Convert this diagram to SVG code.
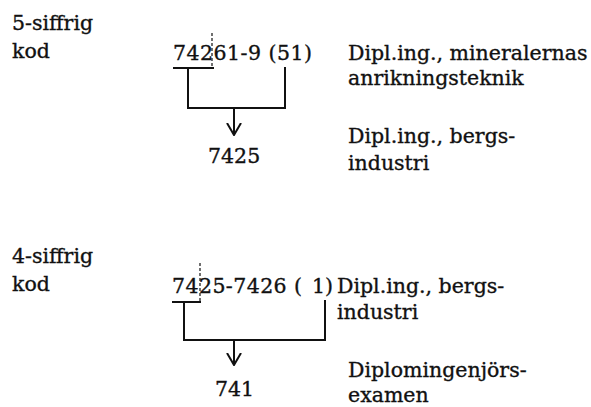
<svg xmlns="http://www.w3.org/2000/svg" width="591" height="407" viewBox="0 0 591 407">
<style>
text{font-family:"DejaVu Serif","Liberation Serif",serif;font-size:20.5px;fill:#111;stroke:#111;stroke-width:0.35}
.ln{stroke:#111;stroke-width:2;fill:none}
.dot{stroke:#111;stroke-width:1.2;stroke-dasharray:3,2;fill:none}
</style>
<defs>
<marker id="ah" viewBox="0 0 13 16" refX="12" refY="8" markerWidth="13" markerHeight="16" markerUnits="userSpaceOnUse" orient="auto">
<path d="M0,1 L12,8 L0,15" fill="none" stroke="#111" stroke-width="2"/>
</marker>
</defs>
<rect width="591" height="407" fill="#fff"/>
<g id="label-5">
<text x="12" y="30">5-siffrig</text>
<text x="12" y="58">kod</text>
</g>
<g id="code-5">
<text x="173" y="60" textLength="139" lengthAdjust="spacing">74261-9 (51)</text>
</g>
<g id="desc-5">
<text x="348" y="60">Dipl.ing., mineralernas</text>
<text x="348" y="85">anrikningsteknik</text>
</g>
<g id="result-5">
<text x="208" y="163">7425</text>
</g>
<g id="desc-5r">
<text x="348" y="143">Dipl.ing., bergs-</text>
<text x="348" y="170">industri</text>
</g>
<g id="label-4">
<text x="12" y="263">4-siffrig</text>
<text x="12" y="291">kod</text>
</g>
<g id="code-4">
<text x="172" y="293" textLength="130" lengthAdjust="spacing">7425-7426 (</text>
<text x="312" y="293">1)</text>
</g>
<g id="desc-4">
<text x="337" y="293">Dipl.ing., bergs-</text>
<text x="337" y="319">industri</text>
</g>
<g id="result-4">
<text x="215" y="396">741</text>
</g>
<g id="desc-4r">
<text x="348" y="377">Diplomingenjörs-</text>
<text x="348" y="402">examen</text>
</g>
<g id="connectors">
<path class="dot" d="M212,33 V68"/>
<path class="ln" d="M173,68 H214 M188,68 V108 H285 V67"/>
<path class="ln" d="M234,108 V135" marker-end="url(#ah)"/>
<path class="dot" d="M200,263 V302"/>
<path class="ln" d="M172,302 H201 M184,302 V340 H325 V300"/>
<path class="ln" d="M234,340 V365" marker-end="url(#ah)"/>
</g>
</svg>
